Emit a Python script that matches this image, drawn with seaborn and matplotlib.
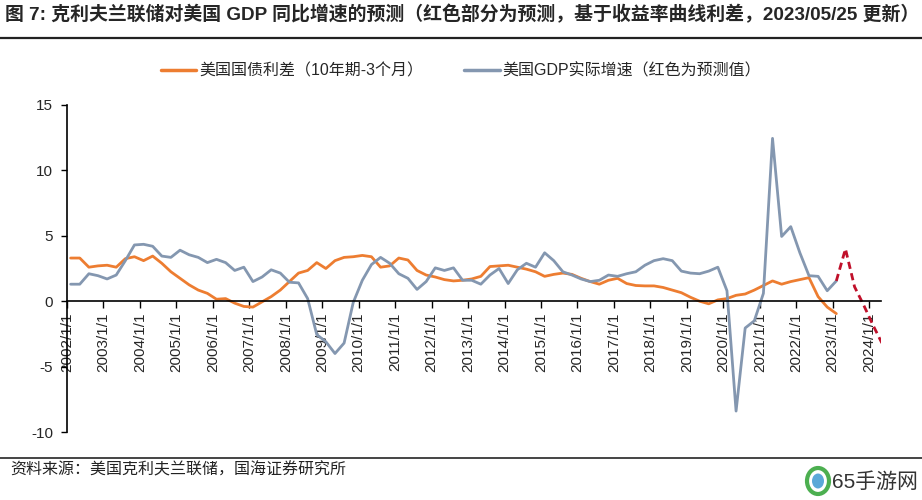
import matplotlib
matplotlib.use("Agg")
import matplotlib.pyplot as plt
from matplotlib.lines import Line2D
from matplotlib.patches import Ellipse
import seaborn as sns
import pandas as pd
import numpy as np

# ---------------- data (quarterly, starting 2002Q1) ----------------
start_year = 2002
tick_labels = [f"{y}/1/1" for y in range(2002, 2025)]

spread_10y3m = [3.3, 3.3, 2.6, 2.7, 2.75, 2.6, 3.25, 3.4, 3.1, 3.45,
                2.9, 2.25, 1.75, 1.25, 0.85, 0.6, 0.15, 0.2, -0.15, -0.4,
                -0.45, -0.05, 0.35, 0.85, 1.5, 2.15, 2.35, 2.95, 2.5, 3.1,
                3.35, 3.4, 3.5, 3.4, 2.6, 2.7, 3.3, 3.15, 2.35, 2.0,
                1.85, 1.65, 1.55, 1.6, 1.7, 1.9, 2.65, 2.7, 2.75, 2.6,
                2.45, 2.25, 1.9, 2.05, 2.15, 2.05, 1.75, 1.5, 1.3, 1.6,
                1.75, 1.35, 1.2, 1.17, 1.17, 1.05, 0.85, 0.65, 0.3, 0.0,
                -0.2, 0.1, 0.2, 0.45, 0.55, 0.85, 1.2, 1.55, 1.3, 1.5,
                1.65, 1.8, 0.35, -0.45, -0.95]

gdp_yoy = [1.3, 1.3, 2.1, 1.95, 1.7, 2.0, 3.1, 4.3, 4.35, 4.2,
           3.45, 3.35, 3.9, 3.55, 3.35, 2.95, 3.2, 2.95, 2.35, 2.6,
           1.5, 1.85, 2.4, 2.15, 1.45, 1.4, 0.2, -2.55, -3.1, -4.0,
           -3.2, -0.1, 1.6, 2.8, 3.35, 2.9, 2.1, 1.75, 0.9, 1.5,
           2.55, 2.35, 2.55, 1.6, 1.6, 1.3, 2.0, 2.5, 1.35, 2.4,
           2.9, 2.6, 3.7, 3.1, 2.25, 2.0, 1.7, 1.5, 1.6, 2.0,
           1.9, 2.1, 2.25, 2.75, 3.1, 3.25, 3.1, 2.3, 2.15, 2.1,
           2.3, 2.6, 0.8, -8.4, -2.05, -1.5, 0.6, 12.45, 4.95, 5.7,
           3.7, 1.95, 1.9, 0.8, 1.55]

# forecast: 2023Q1 (last actual) .. 2024Q2
forecast_start_q = 84
gdp_forecast = [1.55, 4.0, 1.1, -0.3, -1.8, -3.2]

label_spread = "美国国债利差（10年期-3个月）"
label_gdp = "美国GDP实际增速（红色为预测值）"
title = "图 7: 克利夫兰联储对美国 GDP 同比增速的预测（红色部分为预测，基于收益率曲线利差，2023/05/25 更新）"
source = "资料来源：美国克利夫兰联储，国海证券研究所"
watermark = "65手游网"

c_orange = "#ED7D31"
c_gray = "#8497B0"
c_red = "#C0102A"

# ---------------- build frames ----------------
offset = 0.4
df_s = pd.DataFrame({"t": np.arange(len(spread_10y3m)) + offset, "v": spread_10y3m})
df_g = pd.DataFrame({"t": np.arange(len(gdp_yoy)) + offset, "v": gdp_yoy})
df_f = pd.DataFrame({"t": np.arange(len(gdp_forecast)) + forecast_start_q + offset, "v": gdp_forecast})

sns.set_theme(style="white")
plt.rcParams["font.family"] = ["Liberation Sans", "Noto Sans CJK SC", "DejaVu Sans"]
plt.rcParams["axes.unicode_minus"] = False

fig = plt.figure(figsize=(9.22, 5.0), dpi=100)
ax = fig.add_axes([67 / 922, 1 - 432 / 500, (881 - 67) / 922, (432 - 105) / 500])

sns.lineplot(data=df_s, x="t", y="v", ax=ax, color=c_orange, lw=2.0, legend=False)
sns.lineplot(data=df_g, x="t", y="v", ax=ax, color=c_gray, lw=2.0, legend=False)
sns.lineplot(data=df_f, x="t", y="v", ax=ax, color=c_red, lw=2.0, legend=False)
ax.lines[-1].set_linestyle((0, (2.6, 1.6)))

# spines first (set_position resets tick formatting)
for s in ["top", "right"]:
    ax.spines[s].set_visible(False)
ax.spines["bottom"].set_position(("data", 0))
ax.spines["bottom"].set_color("black")
ax.spines["left"].set_color("black")
ax.spines["bottom"].set_linewidth(1.2)
ax.spines["left"].set_linewidth(1.2)

ax.set_xlim(0, 89.3)
ax.set_ylim(-10, 15)
ax.set_yticks([-10, -5, 0, 5, 10, 15])
ax.set_yticklabels(["-10", "-5", "0", "5", "10", "15"])
ax.set_xticks(np.arange(0, 89, 4))
ax.set_xticklabels(tick_labels)
ax.set_xlabel("")
ax.set_ylabel("")
ax.tick_params(axis="x", direction="out", length=5, width=1.0, color="black", pad=3,
               labelrotation=90, labelsize=11, bottom=True)
ax.tick_params(axis="y", direction="out", length=4, width=1.0, color="black", pad=6,
               labelsize=11, left=True)
ax.grid(False)

# title & rules
fig.text(5 / 922, 1 - 15 / 500, title, fontsize=13.6, fontweight="bold", ha="left", va="center")
fig.add_artist(Line2D([0, 1], [1 - 38 / 500, 1 - 38 / 500], color="#222222", lw=1.6,
                      transform=fig.transFigure))
fig.add_artist(Line2D([0, 1], [1 - 458 / 500, 1 - 458 / 500], color="#444444", lw=1.4,
                      transform=fig.transFigure))
fig.text(10 / 922, 1 - 470 / 500, source, fontsize=11.5, ha="left", va="center", color="#222222")

# watermark (logo ring + text)
fig.add_artist(Ellipse((818 / 922, 1 - 481 / 500), 22 / 922, 26 / 500, fill=False,
                       ec="#4CAF50", lw=3, transform=fig.transFigure))
fig.add_artist(Ellipse((818 / 922, 1 - 481 / 500), 12 / 922, 15 / 500, fill=True,
                       fc="#5BA8D8", ec="none", transform=fig.transFigure))
fig.text(918 / 922, 1 - 482 / 500, watermark, fontsize=15, ha="right", va="center", color="#333333")

# legend
handles = [Line2D([], [], color=c_orange, lw=2.5), Line2D([], [], color=c_gray, lw=2.5)]
fig.legend(handles, [label_spread, label_gdp], loc="center", bbox_to_anchor=(0.5, 1 - 71 / 500),
           ncol=2, frameon=False, fontsize=11.5, handlelength=2.2, handletextpad=0.2,
           columnspacing=2.6)

fig.savefig("out.png", dpi=100)
